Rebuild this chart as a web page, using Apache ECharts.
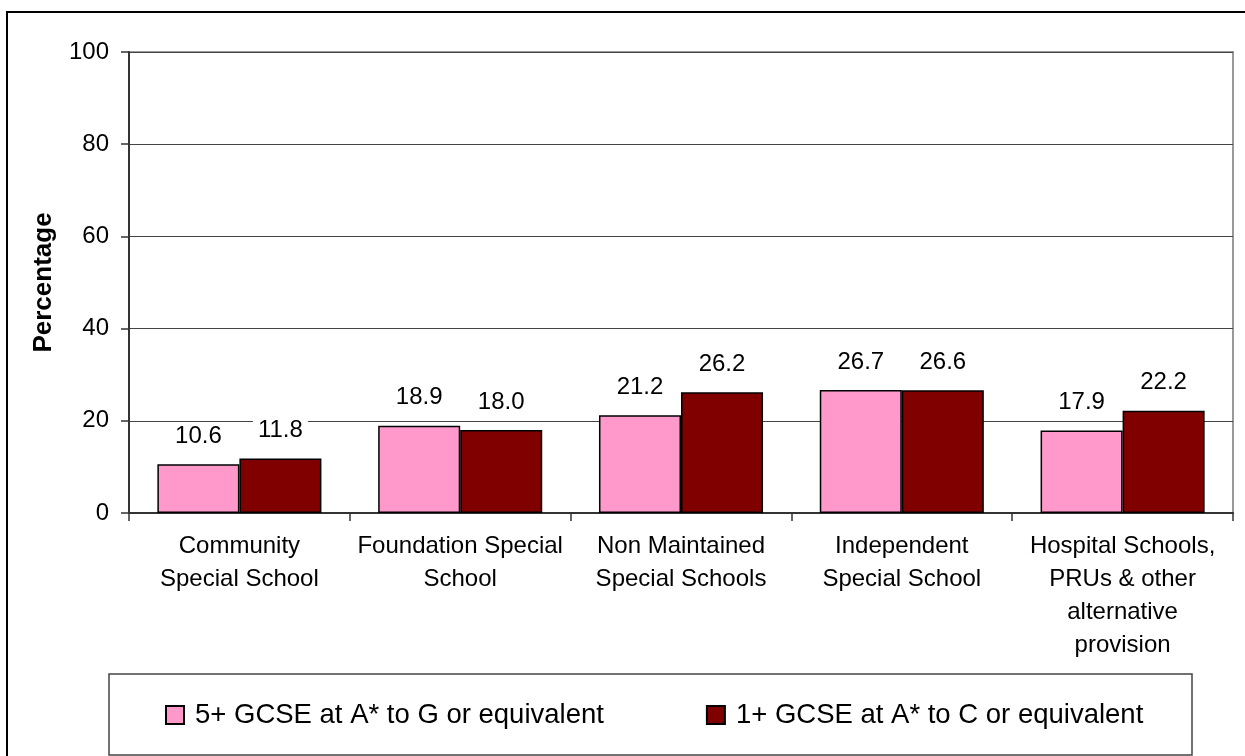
<!DOCTYPE html>
<html>
<head>
<meta charset="utf-8">
<script src="https://cdn.jsdelivr.net/npm/echarts@6/dist/echarts.min.js"></script>
<style>
html,body{margin:0;padding:0;background:#fff;}
#chart{width:1245px;height:756px;}
</style>
</head>
<body>
<div id="chart"></div>
<script>
const categories = [
  "Community\nSpecial School",
  "Foundation Special\nSchool",
  "Non Maintained\nSpecial Schools",
  "Independent\nSpecial School",
  "Hospital Schools,\nPRUs & other\nalternative\nprovision"
];
const seriesNames = ["5+ GCSE at A* to G or equivalent", "1+ GCSE at A* to C or equivalent"];
const gcse5AtoG = [10.6, 18.9, 21.2, 26.7, 17.9];
const gcse1AtoC = [11.8, 18.0, 26.2, 26.6, 22.2];
const yTicks = { min: 0, max: 100, interval: 20 };

const FONT = "'Liberation Sans', Arial, sans-serif";
const chart = echarts.init(document.getElementById('chart'));

const labelStyle = {
  show: true,
  position: 'top',
  distance: 16,
  fontSize: 24,
  fontFamily: FONT,
  color: '#000',
  backgroundColor: '#fff',
  padding: [0, 5],
  formatter: p => p.value.toFixed(1)
};

chart.setOption({
  animation: false,
  backgroundColor: '#fff',
  textStyle: { fontFamily: FONT },
  grid: {
    left: 129, right: 12, top: 52, bottom: 243,
    show: true, borderColor: '#999', borderWidth: 2, backgroundColor: 'transparent'
  },
  graphic: [
    { type: 'rect', silent: true, z: -1,
      shape: { x: 7, y: 12, width: 1260, height: 780 },
      style: { fill: 'none', stroke: '#000', lineWidth: 2 } },
    { type: 'rect', silent: true,
      shape: { x: 109, y: 674, width: 1083, height: 81 },
      style: { fill: 'none', stroke: '#444', lineWidth: 1.5 } }
  ],
  legend: {
    data: seriesNames,
    icon: 'rect',
    left: 165,
    top: 701,
    itemWidth: 18,
    itemHeight: 18,
    itemGap: 102,
    padding: 0,
    textStyle: { fontSize: 27.5, fontFamily: FONT, color: '#000', padding: [0, 0, 0, 6] }
  },
  xAxis: {
    type: 'category',
    data: categories,
    axisLine: { lineStyle: { color: '#333', width: 2 } },
    axisTick: { show: true, length: 8, lineStyle: { color: '#333', width: 1.5 } },
    axisLabel: { fontSize: 24, fontFamily: FONT, color: '#000', margin: 17, lineHeight: 33, interval: 0 }
  },
  yAxis: {
    type: 'value',
    min: yTicks.min, max: yTicks.max, interval: yTicks.interval,
    name: 'Percentage',
    nameLocation: 'middle',
    nameGap: 72,
    nameTextStyle: { fontSize: 26, fontWeight: 'bold', fontFamily: FONT, color: '#000' },
    axisLine: { show: true, lineStyle: { color: '#333', width: 2 } },
    axisTick: { show: true, length: 8, lineStyle: { color: '#333', width: 1.5 } },
    axisLabel: { fontSize: 24, fontFamily: FONT, color: '#000', margin: 20 },
    splitLine: { show: true, lineStyle: { color: '#444', width: 1 } }
  },
  series: [
    {
      name: seriesNames[0], type: 'bar', data: gcse5AtoG,
      barGap: '0%', barCategoryGap: '25.7%',
      itemStyle: { color: '#FF99CC', borderColor: '#000', borderWidth: 1.5 },
      label: labelStyle
    },
    {
      name: seriesNames[1], type: 'bar', data: gcse1AtoC,
      barGap: '0%', barCategoryGap: '25.7%',
      itemStyle: { color: '#800000', borderColor: '#000', borderWidth: 1.5 },
      label: labelStyle
    }
  ]
});
</script>
</body>
</html>
